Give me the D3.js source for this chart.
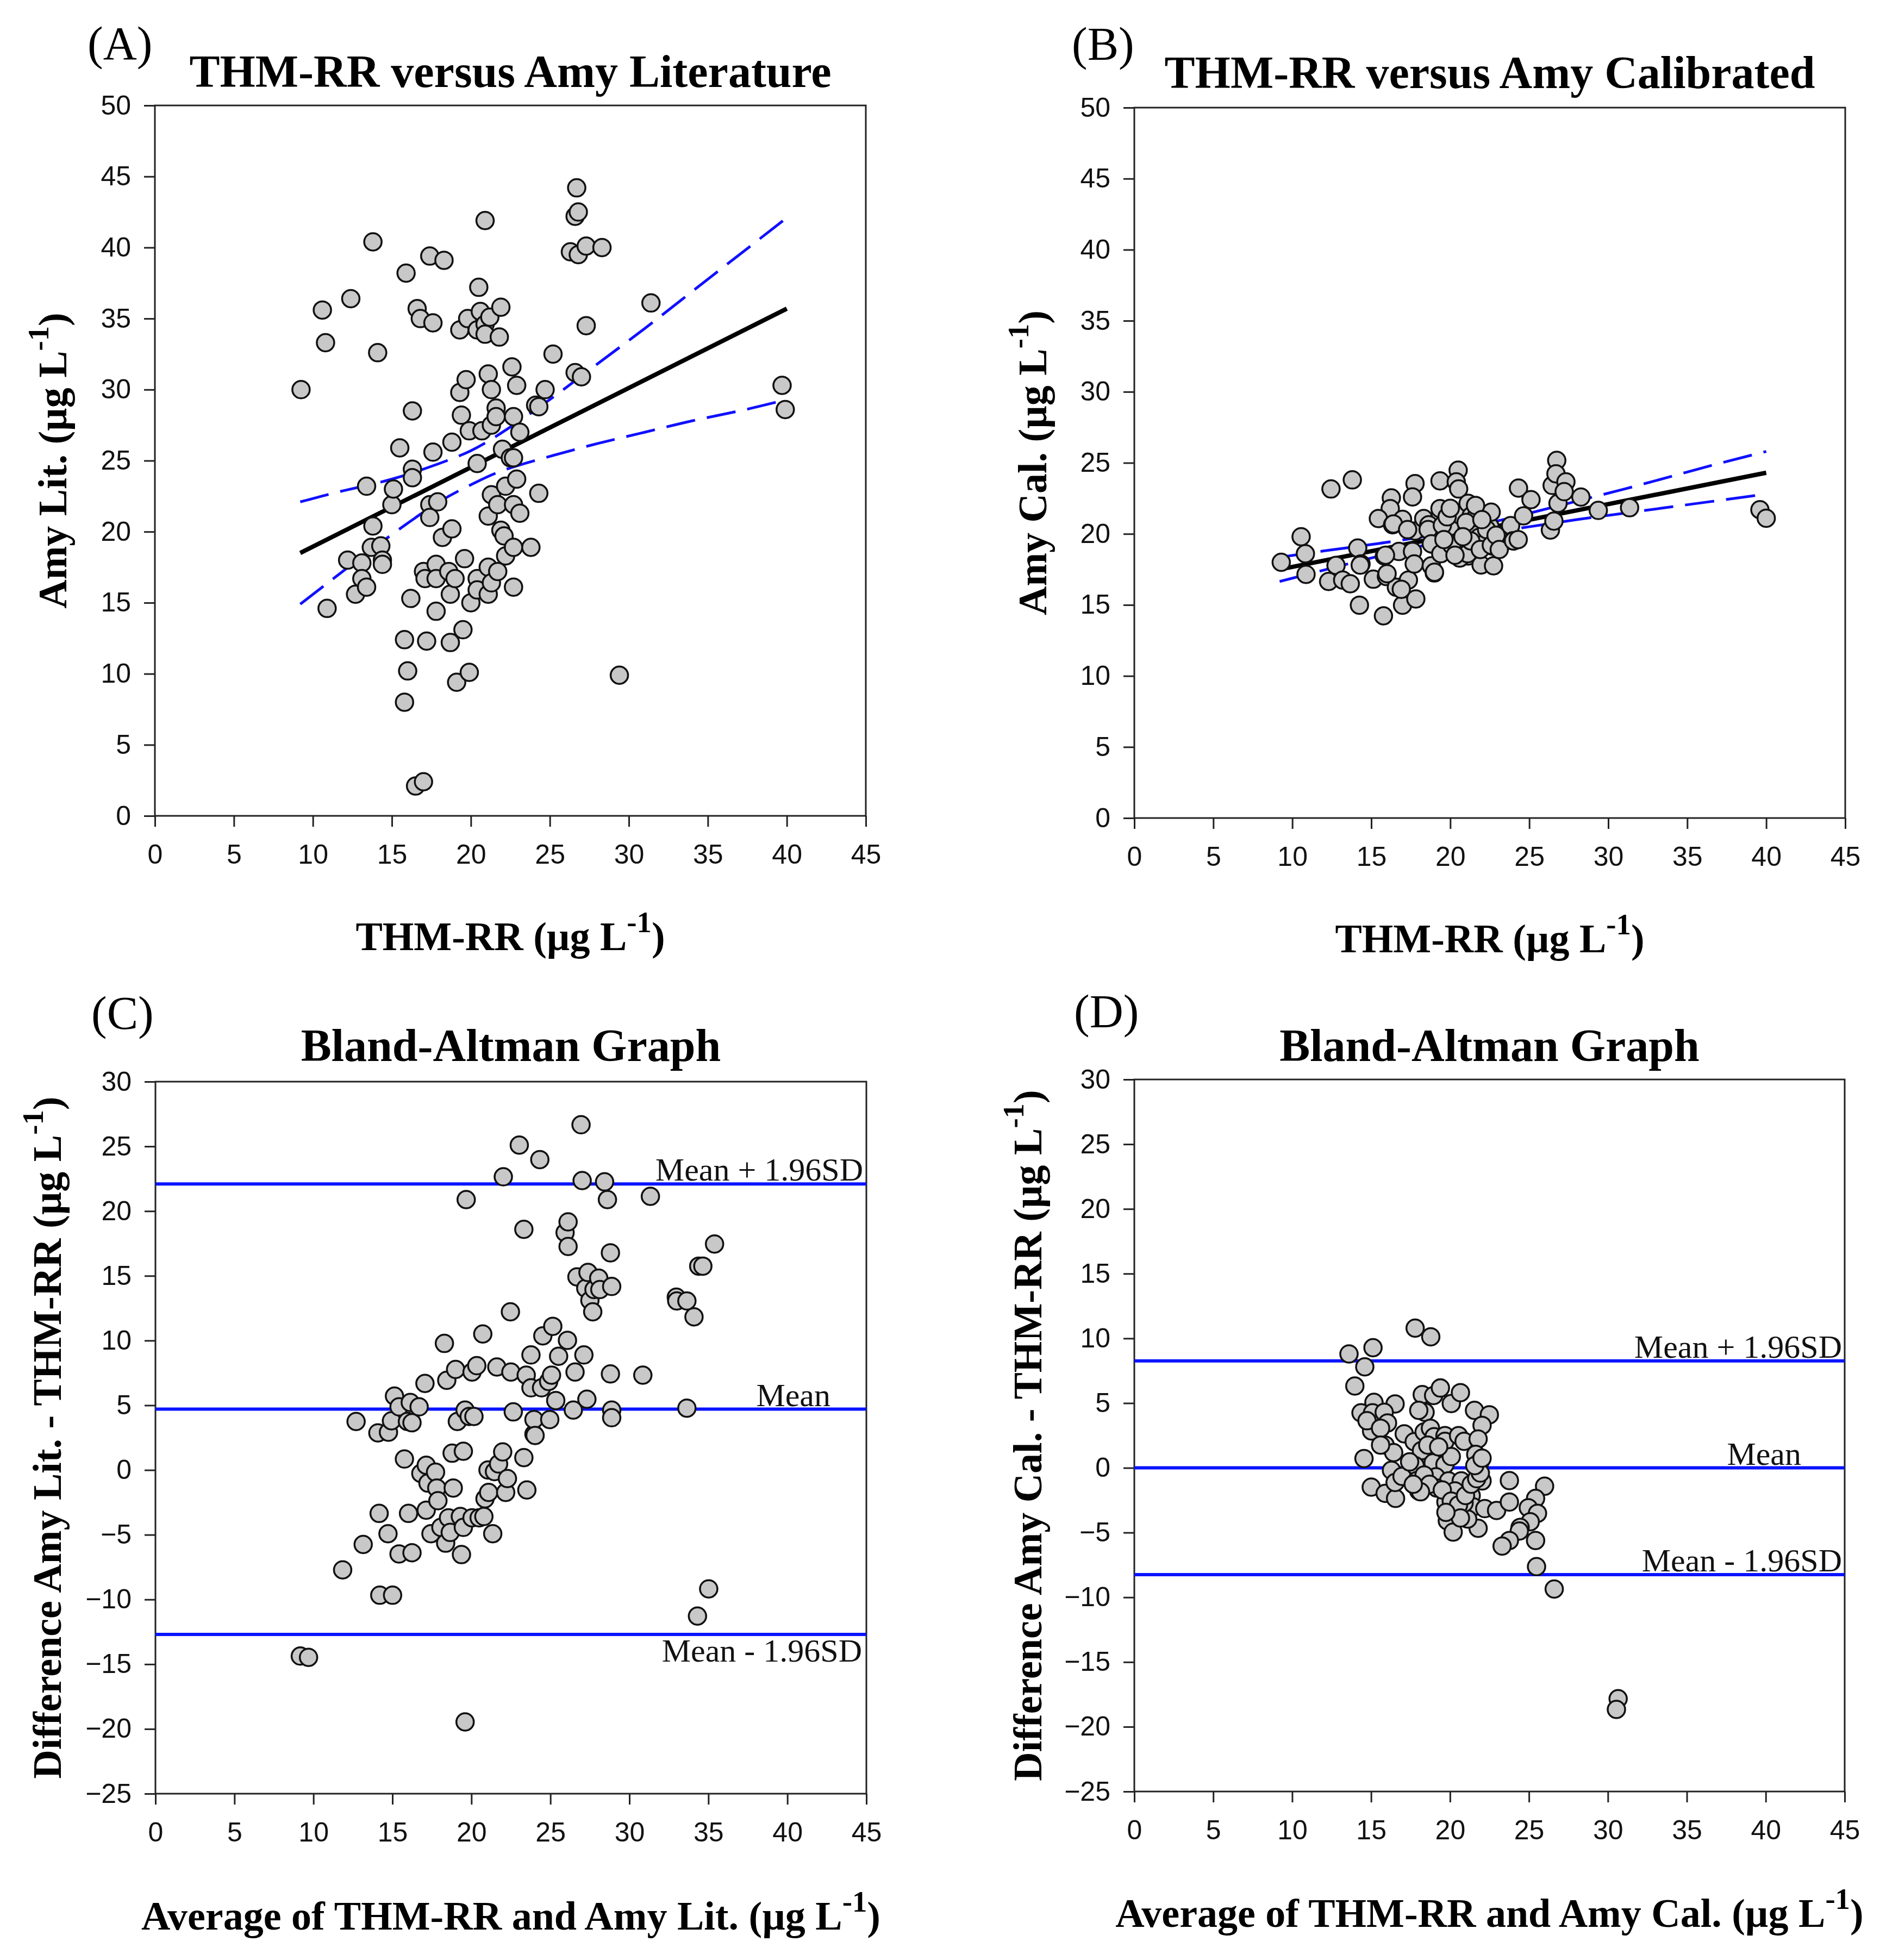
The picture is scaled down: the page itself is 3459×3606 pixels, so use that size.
<!DOCTYPE html>
<html>
<head>
<meta charset="utf-8">
<script src="https://cdn.jsdelivr.net/npm/d3@7"></script>
<style>
  body { margin: 0; background: #fff; }
</style>
</head>
<body>
<div id="chart"></div>
<script>
// ---- values ----

const xTicks = [0, 5, 10, 15, 20, 25, 30, 35, 40, 45];
const yTicksScatter = [0, 5, 10, 15, 20, 25, 30, 35, 40, 45, 50];
const yTicksBA = [-25, -20, -15, -10, -5, 0, 5, 10, 15, 20, 25, 30];

// (A) THM-RR vs Amy Literature
const pointsA = [
  [9.25,30.0],[10.6,35.6],[10.8,33.3],[10.9,14.6],[12.4,36.4],[12.2,18.0],[12.7,15.6],[13.1,17.8],
  [13.1,16.7],[13.4,16.1],[13.4,23.2],[13.8,40.4],[13.7,18.9],[13.8,20.4],[14.1,32.6],[14.3,19.0],
  [14.4,18.0],[14.4,17.7],[15.0,21.9],[15.1,23.0],[15.5,25.9],[15.9,38.2],[15.8,12.4],[16.0,10.2],
  [15.8,8.0],[16.2,15.3],[16.3,28.5],[16.3,24.4],[16.3,23.8],[16.5,2.1],[17.0,2.4],[16.6,35.7],
  [16.8,35.0],[17.6,34.7],[17.4,39.4],[18.3,39.1],[17.0,17.2],[17.1,16.7],[17.4,21.9],[17.4,21.0],
  [17.6,25.6],[17.8,17.7],[17.8,16.7],[17.8,14.4],[17.9,22.1],[17.2,12.3],[18.2,19.6],[18.6,17.2],
  [18.7,15.6],[18.7,12.2],[18.8,26.3],[18.8,20.2],[19.0,16.7],[19.1,9.4],[19.3,34.2],[19.3,29.8],
  [19.4,28.2],[19.5,13.1],[19.6,18.1],[19.7,30.7],[19.8,35.0],[19.9,27.1],[19.9,10.1],[20.0,15.0],
  [20.4,24.8],[20.4,34.2],[20.5,37.2],[20.4,16.7],[20.4,15.9],[20.6,35.5],[20.7,27.1],[20.9,41.9],
  [20.9,34.6],[20.9,33.9],[21.1,31.1],[21.1,17.5],[21.1,15.6],[21.2,35.1],[21.3,30.0],[21.3,27.5],
  [21.3,22.6],[21.1,21.1],[21.3,16.4],[21.6,28.7],[21.6,28.1],[21.7,21.9],[21.7,17.2],[21.8,33.7],
  [21.9,35.8],[22.0,25.8],[21.9,20.1],[22.1,19.7],[22.2,18.3],[22.2,23.2],[22.5,25.2],[22.6,31.6],
  [22.7,28.1],[22.7,25.2],[22.7,21.9],[22.7,18.9],[22.7,16.1],[22.9,30.3],[22.9,23.7],[23.1,27.0],
  [23.1,21.3],[23.8,18.9],[24.1,28.9],[24.3,28.8],[24.3,22.7],[24.7,30.0],[25.2,32.5],[26.3,39.7],
  [26.6,42.2],[26.8,42.5],[26.7,44.2],[26.6,31.2],[27.0,30.9],[26.8,39.5],[27.3,40.1],[27.3,34.5],
  [28.3,40.0],[29.4,9.9],[31.4,36.1],[39.7,30.3],[39.9,28.6]
];
const fitA = [[9.2, 18.5], [40, 35.7]];
const bandUpperA = [[9.2,22.1],[12,22.9],[15,23.7],[18,24.8],[20,25.7],[22,27.0],[25,29.3],[28,31.8],[31,34.3],[34,36.9],[37,39.5],[40,42.1]];
const bandLowerA = [[9.2,14.9],[12,17.3],[15,19.8],[18,22.1],[20,23.3],[22,24.3],[25,25.3],[28,26.2],[31,27.0],[34,27.8],[37,28.5],[40,29.3]];

// (B) THM-RR vs Amy Calibrated
const pointsB = [
  [9.3,18.0],[10.56,19.8],[10.83,18.6],[10.87,17.15],[12.45,23.16],[13.8,23.8],[12.3,16.65],[12.77,17.78],
  [13.19,16.75],[13.67,16.49],[14.14,19.0],[14.35,17.88],[14.25,14.98],[15.13,16.81],[15.77,14.23],[15.83,18.44],
  [15.96,17.0],[16.27,22.53],[16.2,21.78],[15.45,21.08],[16.35,20.64],[16.75,18.76],[16.98,21.02],[16.98,14.98],
  [16.59,16.24],[17.35,16.75],[17.61,18.76],[17.77,20.2],[17.77,23.54],[17.61,22.6],[17.82,15.42],[17.72,17.88],
  [18.32,21.08],[18.64,20.64],[18.8,17.75],[18.99,17.25],[18.92,19.26],[19.35,23.73],[19.35,21.78],[19.59,19.89],
  [19.51,18.76],[19.98,20.52],[20.5,24.48],[20.38,23.66],[20.38,19.14],[20.53,23.16],[20.69,21.27],[21.13,22.15],
  [21.24,20.27],[21.2,19.45],[21.32,21.27],[21.13,18.44],[21.61,21.15],[21.83,19.76],[21.95,17.81],[22.1,19.26],
  [22.51,20.52],[22.59,21.53],[22.67,19.14],[22.74,17.75],[23.22,19.89],[23.82,20.58],[23.96,19.51],[24.32,23.22],
  [24.64,21.27],[25.11,22.41],[26.34,20.27],[26.56,20.9],[26.82,22.15],[26.45,23.41],[26.74,25.17],[26.69,24.23],
  [27.32,23.66],[27.21,22.97],[28.27,22.59],[29.37,21.65],[31.35,21.84],[39.6,21.7],[40.0,21.1],
  [18.6,20.3],[18.8,19.3],[19.4,18.6],[19.5,20.6],[19.8,21.2],[20.1,19.2],[20.6,18.3],[21.1,18.6],
  [21.3,19.5],[21.6,22.0],[21.9,18.9],[22.3,20.3],[22.6,19.2],[22.9,19.9],[23.1,18.9],[24.0,19.5],
  [24.3,19.6],[15.9,18.5],[16.0,17.2],[16.9,16.1],[19.0,17.3],[20.3,18.5],[21.0,20.8],[20.0,21.8],
  [22.0,21.0],[19.6,19.6],[20.8,19.8],[14.3,17.8],[16.4,20.7],[17.3,20.3]
];
const fitB = [[9.2, 17.5], [40, 24.3]];
const bandUpperB = [[9.2,18.35],[12,18.8],[15,19.25],[18,19.75],[20,20.15],[22,20.65],[25,21.45],[28,22.3],[31,23.15],[34,24.05],[37,24.95],[40,25.8]];
const bandLowerB = [[9.2,16.65],[12,17.45],[15,18.3],[18,19.1],[20,19.6],[22,20.0],[25,20.5],[28,21.0],[31,21.45],[34,21.9],[37,22.35],[40,22.8]];

// (C) Bland-Altman, Amy Lit.
const pointsC = [
  [9.17,-14.37],[9.69,-14.47],[11.85,-7.71],[12.7,3.75],[13.15,-5.75],[14.08,2.87],[14.16,-3.35],[14.2,-9.67],
  [14.72,-4.92],[14.75,2.92],[14.94,3.8],[15.01,-9.67],[15.13,5.71],[15.42,4.88],[15.42,-6.48],[15.76,0.85],
  [15.95,3.75],[16.02,-3.35],[16.13,5.22],[16.24,-6.39],[16.24,3.65],[16.69,4.88],[16.8,-0.26],[17.06,6.69],
  [17.14,-3.1],[17.14,0.37],[17.25,-1.01],[17.44,-4.92],[17.73,-0.17],[17.81,-1.39],[17.88,-2.37],[18.07,-4.43],
  [18.29,9.78],[18.37,-5.65],[18.44,6.93],[18.55,-3.69],[18.66,-4.82],[18.78,1.3],[18.85,-1.39],[19.0,7.77],
  [19.11,3.75],[19.3,-3.59],[19.37,-6.53],[19.49,1.45],[19.49,-4.43],[19.6,4.63],[19.67,20.89],[19.86,4.14],
  [20.04,7.57],[20.04,-3.69],[20.16,4.14],[20.34,8.06],[20.49,-3.69],[20.72,10.51],[20.79,-3.59],[20.86,-2.22],
  [21.05,0.0],[21.09,-1.73],[21.35,-4.92],[21.46,-0.12],[21.61,7.96],[21.72,0.47],[21.98,1.4],[22.02,22.65],
  [22.17,-1.73],[22.28,-0.66],[22.47,12.22],[22.5,7.57],[22.65,4.49],[23.03,25.1],[23.32,18.59],[23.32,0.96],
  [23.47,7.33],[23.51,-1.54],[23.77,8.89],[23.77,6.35],[23.96,2.77],[23.96,3.9],[24.03,2.67],[24.33,23.98],
  [24.44,6.35],[24.52,10.36],[24.89,6.84],[24.96,3.9],[25.07,7.33],[25.15,11.1],[25.34,5.37],[25.52,8.79],
  [25.93,18.34],[26.12,19.17],[26.12,17.27],[26.08,10.02],[26.45,4.63],[26.56,7.57],[26.68,14.92],[26.94,26.67],
  [27.01,22.36],[27.12,8.89],[27.24,14.04],[27.31,5.47],[27.38,15.26],[27.5,13.1],[27.68,12.22],[27.76,13.94],
  [28.06,14.82],[28.13,13.94],[28.43,22.26],[28.61,20.89],[28.8,16.78],[28.88,14.18],[28.8,7.42],[28.88,4.63],
  [28.88,4.04],[30.85,7.33],[31.33,21.14],[32.97,13.35],[33.0,13.06],[33.64,13.06],[33.64,4.78],[34.09,11.83],
  [34.31,-11.28],[34.39,15.75],[34.65,15.75],[35.02,-9.18],[35.39,17.46],[19.6,-19.46]
];
const limitsC = [22.1, 4.7, -12.7];

// (D) Bland-Altman, Amy Cal.
const pointsD = [
  [17.79,10.79],[18.78,10.12],[13.6,8.8],[15.12,9.28],[14.6,7.8],[13.97,6.32],[15.18,5.06],[16.52,4.94],
  [14.36,4.25],[15.09,4.25],[15.83,4.29],[16.04,3.47],[15.03,2.85],[15.89,1.76],[16.43,1.18],[14.55,0.72],
  [16.29,-0.19],[15.01,-1.49],[15.89,-1.97],[16.55,-2.36],[16.52,-1.13],[16.96,-0.66],[17.1,2.63],[17.73,2.02],
  [17.76,0.25],[18.24,5.66],[18.96,5.59],[19.39,6.17],[20.08,4.97],[20.66,5.81],[18.42,4.29],[18.02,4.44],
  [18.36,2.77],[18.76,3.06],[18.99,2.41],[19.68,2.49],[19.68,2.05],[18.19,1.33],[18.93,0.39],[19.68,0.25],
  [20.08,0.87],[20.54,2.49],[20.89,2.05],[21.55,4.44],[22.49,4.1],[22.03,3.28],[21.78,2.23],[21.63,1.04],
  [21.92,0.53],[17.79,0.17],[17.9,-0.98],[18.24,-1.05],[18.02,-1.78],[19.11,-0.69],[19.91,-1.01],[20.71,-1.01],
  [22.03,-1.01],[23.76,-0.98],[19.16,-1.56],[20.31,-1.78],[21.34,-2.14],[19.74,-2.64],[20.89,-3.44],[21.46,-3.01],
  [22.2,-3.15],[22.95,-3.29],[23.76,-2.64],[19.83,-4.09],[20.2,-4.96],[21.78,-4.67],[25.99,-1.42],[25.42,-2.36],
  [24.96,-3.08],[25.54,-3.51],[25.08,-4.16],[24.44,-4.6],[24.39,-4.88],[23.76,-5.61],[23.3,-6.04],[25.42,-5.61],
  [25.48,-7.63],[26.6,-9.36],[21.12,-3.95],[20.89,-2.72],[20.43,-2.72],[30.65,-17.83],[30.54,-18.66],
  [14.74,3.64],[15.6,3.06],[15.6,1.76],[18.59,1.76],[19.28,1.62],[18.36,-0.55],[18.7,-1.27],[19.51,-1.71],
  [20.08,-2.57],[20.54,-2.86],[20.98,-2.14],[21.34,-1.27],[21.69,-0.84],[21.92,-0.4],[21.57,0.17],[22.03,0.75],
  [20.66,-3.87],[19.74,-3.44],[18.13,-1.85],[17.67,-1.27],[17.44,0.46]
];
const limitsD = [8.26, 0.0, -8.25];

const limitLabels = ["Mean + 1.96SD", "Mean", "Mean - 1.96SD"];

// ---- page setup ----

const WIDTH = 3459, HEIGHT = 3606;
const SERIF = "'Liberation Serif', 'Times New Roman', serif";
const SANS = "'Liberation Sans', Arial, sans-serif";

function setupSVG(id, width, height, background) {
  const svg = d3.select(id)
    .append("svg")
    .attr("width", width)
    .attr("height", height);
  svg.append("rect")
    .attr("width", width)
    .attr("height", height)
    .attr("fill", background);
  return svg;
}

// text with a "-1" superscript before the closing bracket
function unitText(sel, main, size) {
  sel.append("tspan").text(main);
  sel.append("tspan").text("-1")
    .attr("font-size", size * 0.74)
    .attr("dy", -size * 0.45);
  sel.append("tspan").text(")")
    .attr("dy", size * 0.45);
}

function drawPanel(svg, p) {
  const x = d3.scaleLinear().domain([0, 45]).range([0, p.w]);
  const y = d3.scaleLinear().domain(p.yDomain).range([p.h, 0]);
  const g = svg.append("g").attr("transform", `translate(${p.left},${p.top})`);

  // axes, ticks outward
  const yAxis = g.append("g")
    .call(d3.axisLeft(y).tickValues(p.yTicks).tickSize(20).tickPadding(24).tickFormat(d3.format("d")));
  const xAxis = g.append("g")
    .attr("transform", `translate(0,${p.h})`)
    .call(d3.axisBottom(x).tickValues(xTicks).tickSize(20).tickPadding(32).tickFormat(d3.format("d")));
  [xAxis, yAxis].forEach(a => {
    a.select(".domain").remove();
    a.selectAll(".tick line").attr("stroke", "#222").attr("stroke-width", 3);
    a.selectAll(".tick text")
      .attr("font-family", SANS)
      .attr("font-size", 50)
      .attr("fill", "#111");
  });

  // frame
  g.append("rect")
    .attr("width", p.w)
    .attr("height", p.h)
    .attr("fill", "none")
    .attr("stroke", "#222")
    .attr("stroke-width", 3);

  const line = d3.line().x(d => x(d[0])).y(d => y(d[1]));
  const curved = d3.line().x(d => x(d[0])).y(d => y(d[1])).curve(d3.curveNatural);

  if (p.fit) {
    g.append("path").datum(p.fit)
      .attr("d", line)
      .attr("fill", "none")
      .attr("stroke", "#000")
      .attr("stroke-width", 8);
    [p.upper, p.lower].forEach(band => {
      g.append("path").datum(band)
        .attr("d", curved)
        .attr("fill", "none")
        .attr("stroke", "#1010ff")
        .attr("stroke-width", 5)
        .attr("stroke-dasharray", "54,22");
    });
  }

  if (p.limits) {
    g.selectAll(".limit").data(p.limits).enter()
      .append("line")
      .attr("x1", 0).attr("x2", p.w)
      .attr("y1", d => y(d)).attr("y2", d => y(d))
      .attr("stroke", "#0a14ff")
      .attr("stroke-width", 6);
  }

  g.selectAll("circle").data(p.points).enter()
    .append("circle")
    .attr("cx", d => x(d[0]))
    .attr("cy", d => y(d[1]))
    .attr("r", 16)
    .attr("fill", "#c8c8c8")
    .attr("stroke", "#111")
    .attr("stroke-width", 3.5);

  if (p.limits) {
    g.selectAll(".limit-label").data(p.limits).enter()
      .append("text")
      .attr("x", (d, i) => p.labelX[i])
      .attr("y", (d, i) => y(d) + p.labelDy[i])
      .attr("text-anchor", "end")
      .attr("font-family", SERIF)
      .attr("font-size", 60)
      .attr("fill", "#111")
      .text((d, i) => limitLabels[i]);
  }

  // panel letter and title
  svg.append("text")
    .attr("x", p.letterX).attr("y", p.letterY)
    .attr("font-family", SERIF).attr("font-size", 86)
    .text(p.letter);
  svg.append("text")
    .attr("x", p.left + p.w / 2).attr("y", p.titleY)
    .attr("text-anchor", "middle")
    .attr("font-family", SERIF).attr("font-weight", "bold").attr("font-size", 84)
    .text(p.title);

  // axis titles
  svg.append("text")
    .attr("x", p.left + p.w / 2).attr("y", p.xTitleY)
    .attr("text-anchor", "middle")
    .attr("font-family", SERIF).attr("font-weight", "bold").attr("font-size", 74)
    .call(unitText, p.xTitle, 74);
  svg.append("text")
    .attr("transform", `translate(${p.yTitleX},${p.top + p.h / 2}) rotate(-90)`)
    .attr("text-anchor", "middle")
    .attr("font-family", SERIF).attr("font-weight", "bold").attr("font-size", 74)
    .call(unitText, p.yTitle, 74);
}

const svg = setupSVG("#chart", WIDTH, HEIGHT, "#fff");

const panels = [
  { letter: "(A)", letterX: 161, letterY: 109, title: "THM-RR versus Amy Literature", titleY: 160,
    left: 285, top: 194, w: 1308, h: 1307, yDomain: [0, 50], yTicks: yTicksScatter,
    points: pointsA, fit: fitA, upper: bandUpperA, lower: bandLowerA,
    xTitle: "THM-RR (\u00b5g L", xTitleY: 1748, yTitle: "Amy Lit. (\u00b5g L", yTitleX: 122 },
  { letter: "(B)", letterX: 1972, letterY: 110, title: "THM-RR versus Amy Calibrated", titleY: 162,
    left: 2087, top: 198, w: 1308, h: 1307, yDomain: [0, 50], yTicks: yTicksScatter,
    points: pointsB, fit: fitB, upper: bandUpperB, lower: bandLowerB,
    xTitle: "THM-RR (\u00b5g L", xTitleY: 1752, yTitle: "Amy Cal. (\u00b5g L", yTitleX: 1925 },
  { letter: "(C)", letterX: 168, letterY: 1893, title: "Bland-Altman Graph", titleY: 1952,
    left: 286, top: 1990, w: 1308, h: 1310, yDomain: [-25, 30], yTicks: yTicksBA,
    points: pointsC, limits: limitsC, labelX: [1302, 1242, 1300], labelDy: [-6, -6, 50],
    xTitle: "Average of THM-RR and Amy Lit. (\u00b5g L", xTitleY: 3550,
    yTitle: "Difference Amy Lit. - THM-RR (\u00b5g L", yTitleX: 112 },
  { letter: "(D)", letterX: 1976, letterY: 1890, title: "Bland-Altman Graph", titleY: 1952,
    left: 2087, top: 1986, w: 1307, h: 1310, yDomain: [-25, 30], yTicks: yTicksBA,
    points: pointsD, limits: limitsD, labelX: [1302, 1227, 1302], labelDy: [-6, -6, -6],
    xTitle: "Average of THM-RR and Amy Cal. (\u00b5g L", xTitleY: 3545,
    yTitle: "Difference Amy Cal. - THM-RR (\u00b5g L", yTitleX: 1916 }
];

panels.forEach(p => drawPanel(svg, p));
</script>
</body>
</html>
